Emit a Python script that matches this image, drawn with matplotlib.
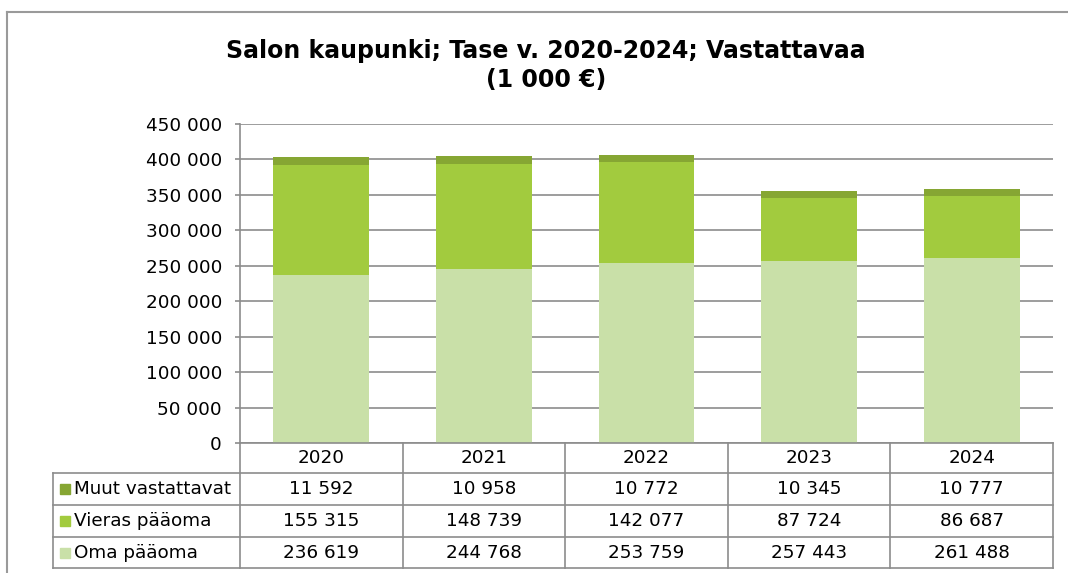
import matplotlib
matplotlib.use("Agg")
import matplotlib.pyplot as plt
from matplotlib.lines import Line2D
from matplotlib.patches import Rectangle

years = ["2020", "2021", "2022", "2023", "2024"]
oma = [236619, 244768, 253759, 257443, 261488]
vieras = [155315, 148739, 142077, 87724, 86687]
muut = [11592, 10958, 10772, 10345, 10777]
series_names = ["Muut vastattavat", "Vieras pääoma", "Oma pääoma"]
colors = {"Oma pääoma": "#C9E0A8", "Vieras pääoma": "#A2CB3E", "Muut vastattavat": "#86A633"}
yticks = list(range(0, 450001, 50000))

W, H = 1068, 573
fig = plt.figure(figsize=(W / 100, H / 100), dpi=100)
plt.rcParams['font.family'] = ['DejaVu Sans']
FS = 13.2

def fx(x):
    return x / W

def fy(y):
    return 1 - y / H

ax_l, ax_r, ax_t, ax_b = 240, 1053, 124, 443
ax = fig.add_axes([fx(ax_l), fy(ax_b), fx(ax_r - ax_l), (ax_b - ax_t) / H])

x = list(range(len(years)))
bw = 0.59
ax.bar(x, oma, bw, color=colors["Oma pääoma"], zorder=3)
ax.bar(x, vieras, bw, bottom=oma, color=colors["Vieras pääoma"], zorder=3)
bot2 = [a + b for a, b in zip(oma, vieras)]
ax.bar(x, muut, bw, bottom=bot2, color=colors["Muut vastattavat"], zorder=3)

ax.set_xlim(-0.5, len(years) - 0.5)
ax.set_ylim(0, 450000)
ax.set_yticks(yticks)
ax.set_yticklabels([f"{v:,}".replace(",", " ") for v in yticks], fontsize=FS, color="#000000")
ax.set_xticks([])
ax.yaxis.grid(True, color="#8C8C8C", linewidth=1.2, zorder=0)
for s in ["top", "right", "bottom"]:
    ax.spines[s].set_visible(False)
ax.spines["left"].set_color("#8C8C8C")
ax.spines["left"].set_linewidth(1.2)
ax.tick_params(axis="y", length=3.6, color="#8C8C8C", width=1.2, pad=9.4)

# Title
fig.text(fx(546), fy(51), "Salon kaupunki; Tase v. 2020-2024; Vastattavaa", ha="center", va="center",
         fontsize=17, fontweight="bold")
fig.text(fx(546), fy(80), "(1 000 €)", ha="center", va="center", fontsize=17, fontweight="bold")

# Outer border (top and left only visible)
lc = "#9A9A9A"
fig.add_artist(Line2D([fx(7), fx(1068)], [fy(12), fy(12)], color=lc, lw=1.5))
fig.add_artist(Line2D([fx(7), fx(7)], [fy(12), fy(573)], color=lc, lw=1.5))

# Data table
tc = "#8C8C8C"
row_y = [443, 473, 505, 537, 568]
col_w = (ax_r - ax_l) / len(years)
col_x = [ax_l + i * col_w for i in range(len(years) + 1)]
tab_l = 53
fig.add_artist(Line2D([fx(ax_l), fx(ax_r)], [fy(row_y[0]), fy(row_y[0])], color=tc, lw=1.2))
for yy in row_y[1:]:
    fig.add_artist(Line2D([fx(tab_l), fx(ax_r)], [fy(yy), fy(yy)], color=tc, lw=1.2))
for xx in col_x:
    fig.add_artist(Line2D([fx(xx), fx(xx)], [fy(row_y[0]), fy(row_y[-1])], color=tc, lw=1.2))
fig.add_artist(Line2D([fx(tab_l), fx(tab_l)], [fy(row_y[1]), fy(row_y[-1])], color=tc, lw=1.2))

for i, yr in enumerate(years):
    cx = (col_x[i] + col_x[i + 1]) / 2
    fig.text(fx(cx), fy((row_y[0] + row_y[1]) / 2), yr, ha="center", va="center", fontsize=FS)

series_vals = {"Muut vastattavat": muut, "Vieras pääoma": vieras, "Oma pääoma": oma}
for r, name in enumerate(series_names):
    cy = (row_y[r + 1] + row_y[r + 2]) / 2
    fig.add_artist(Rectangle((fx(60), fy(cy + 5)), fx(10), 10 / H, color=colors[name]))
    fig.text(fx(74), fy(cy), name, ha="left", va="center", fontsize=FS)
    for i, v in enumerate(series_vals[name]):
        cx = (col_x[i] + col_x[i + 1]) / 2
        fig.text(fx(cx), fy(cy), f"{v:,}".replace(",", " "), ha="center", va="center", fontsize=FS)

fig.savefig("out.png", dpi=100)
